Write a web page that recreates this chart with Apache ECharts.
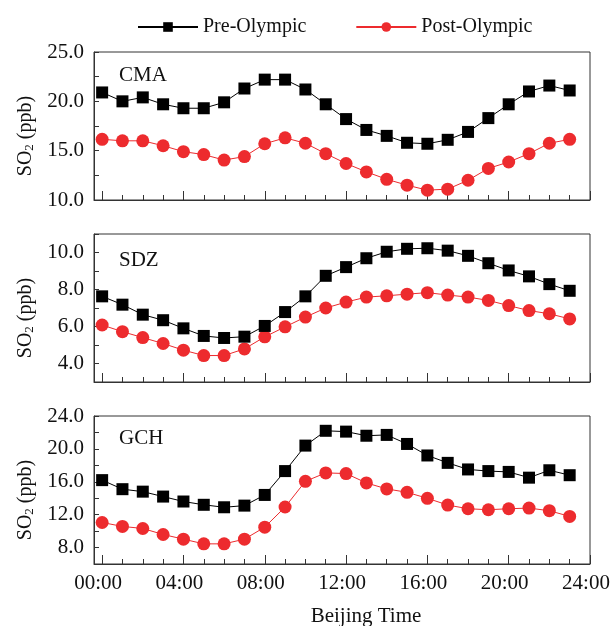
<!DOCTYPE html>
<html>
<head>
<meta charset="utf-8">
<title>SO2 diurnal variation</title>
<script src="https://cdn.jsdelivr.net/npm/echarts@6/dist/echarts.min.js"></script>
<style>
  html, body { margin: 0; padding: 0; background: #fff; }
  #chart { width: 611px; height: 626px; }
</style>
</head>
<body>
<div id="chart"></div>
<script>
// Hour of day (Beijing Time) for each hourly mean
var hours = [0, 1, 2, 3, 4, 5, 6, 7, 8, 9, 10, 11, 12, 13, 14, 15, 16, 17, 18, 19, 20, 21, 22, 23];

// Station names
var stations = ['CMA', 'SDZ', 'GCH'];

// Hourly mean SO2 (ppb), pre-Olympic period
var preCMA = [20.9, 20.0, 20.4, 19.7, 19.3, 19.3, 19.9, 21.3, 22.2, 22.2, 21.2, 19.7, 18.2, 17.1, 16.5, 15.8, 15.7, 16.1, 16.9, 18.3, 19.7, 21.0, 21.6, 21.1];
var preSDZ = [7.63, 7.18, 6.64, 6.34, 5.90, 5.49, 5.38, 5.45, 6.03, 6.78, 7.63, 8.74, 9.21, 9.69, 10.04, 10.20, 10.23, 10.10, 9.82, 9.42, 9.03, 8.71, 8.29, 7.93];
var preGCH = [16.2, 15.1, 14.8, 14.2, 13.6, 13.2, 12.9, 13.1, 14.4, 17.3, 20.4, 22.2, 22.1, 21.6, 21.7, 20.6, 19.2, 18.3, 17.5, 17.3, 17.2, 16.5, 17.4, 16.8];

// Hourly mean SO2 (ppb), post-Olympic period
var postCMA = [16.15, 16.0, 16.0, 15.5, 14.9, 14.6, 14.05, 14.4, 15.7, 16.3, 15.75, 14.7, 13.7, 12.85, 12.1, 11.5, 11.0, 11.1, 12.0, 13.2, 13.85, 14.7, 15.75, 16.15];
var postSDZ = [6.08, 5.72, 5.40, 5.08, 4.72, 4.43, 4.43, 4.79, 5.44, 5.98, 6.51, 7.00, 7.32, 7.59, 7.66, 7.75, 7.83, 7.70, 7.59, 7.41, 7.13, 6.86, 6.69, 6.41];
var postGCH = [11.05, 10.57, 10.32, 9.59, 9.02, 8.45, 8.45, 9.02, 10.48, 12.93, 16.06, 17.08, 17.0, 15.86, 15.13, 14.72, 13.99, 13.17, 12.72, 12.6, 12.72, 12.8, 12.48, 11.79];

// Axis tick positions
var hourTicks = [0, 1, 2, 3, 4, 5, 6, 7, 8, 9, 10, 11, 12, 13, 14, 15, 16, 17, 18, 19, 20, 21, 22, 23, 24];
var hourLabels = [0, 4, 8, 12, 16, 20, 24];

var seriesNames = ['Pre-Olympic', 'Post-Olympic'];

var FONT = '"Liberation Serif", "DejaVu Serif", serif';
var AXIS_COLOR = '#333';
var TEXT_COLOR = '#111';
var BLACK = '#000000';
var RED = '#ED2B2E';

var panels = [
  { name: stations[0], pre: preCMA, post: postCMA, min: 10, max: 25, step: 2.5, labelStep: 5, top: 52, labelTop: 60 },
  { name: stations[1], pre: preSDZ, post: postSDZ, min: 3, max: 11, step: 1, labelStep: 2, top: 234, labelTop: 245 },
  { name: stations[2], pre: preGCH, post: postGCH, min: 6, max: 24, step: 2, labelStep: 4, top: 416, labelTop: 423 }
];

function zip(xs, ys) {
  return xs.map(function (x, i) { return [x, ys[i]]; });
}

function pad2(n) { return (n < 10 ? '0' : '') + n; }

// true when v sits on a labelled step of the panel's axis
function onLabelStep(v, step) {
  var r = v / step;
  return Math.abs(r - Math.round(r)) < 1e-6;
}

var grids = [], xAxes = [], yAxes = [], series = [], titles = [];

panels.forEach(function (p, i) {
  var last = i === panels.length - 1;
  grids.push({
    left: 94, right: 21, top: p.top, height: 148,
    outerBoundsMode: 'none', containLabel: false,
    show: true, borderColor: AXIS_COLOR, borderWidth: 1, backgroundColor: 'transparent'
  });
  // main x axis: long ticks every 4 h, labels on the bottom panel
  xAxes.push({
    type: 'value', gridIndex: i, min: -0.4, max: 24,
    axisLine: { show: true, onZero: false, lineStyle: { color: AXIS_COLOR, width: 1 } },
    axisTick: { show: true, inside: true, length: 9, customValues: hourLabels, lineStyle: { color: AXIS_COLOR } },
    axisLabel: {
      show: last, customValues: hourLabels, margin: 9, padding: [0, 8, 0, 0],
      fontFamily: FONT, fontSize: 21, color: TEXT_COLOR,
      formatter: function (v) { return pad2(Math.round(v)) + ':00'; }
    },
    splitLine: { show: false },
    name: last ? 'Beijing Time' : '',
    nameLocation: 'middle', nameGap: 42,
    nameTextStyle: { fontFamily: FONT, fontSize: 21, color: TEXT_COLOR, padding: [0, 0, 0, 48] }
  });
  // hourly short ticks
  xAxes.push({
    type: 'value', gridIndex: i, min: -0.4, max: 24, position: 'bottom',
    axisLine: { show: false },
    axisTick: { show: true, inside: true, length: 5, customValues: hourTicks, lineStyle: { color: AXIS_COLOR } },
    axisLabel: { show: false },
    splitLine: { show: false }
  });
  yAxes.push({
    type: 'value', gridIndex: i, min: p.min, max: p.max, interval: p.step,
    axisLine: { show: true, onZero: false, lineStyle: { color: AXIS_COLOR, width: 1 } },
    axisTick: { show: true, inside: true, length: 5, lineStyle: { color: AXIS_COLOR } },
    axisLabel: {
      margin: 10, fontFamily: FONT, fontSize: 21, color: TEXT_COLOR,
      formatter: function (v) { return onLabelStep(v, p.labelStep) ? v.toFixed(1) : ''; }
    },
    splitLine: { show: false },
    name: 'SO{sub|2} (ppb)',
    nameLocation: 'middle', nameGap: 53, nameRotate: 90,
    nameTextStyle: {
      fontFamily: FONT, fontSize: 20, color: TEXT_COLOR, padding: [0, 20, 0, 0],
      rich: { sub: { fontFamily: FONT, fontSize: 13, verticalAlign: 'bottom', padding: [8, 0, 0, 0], color: TEXT_COLOR } }
    }
  });
  series.push({
    name: seriesNames[0], type: 'line', xAxisIndex: i * 2, yAxisIndex: i,
    data: zip(hours, p.pre),
    symbol: 'rect', symbolSize: 12,
    lineStyle: { color: BLACK, width: 1 },
    itemStyle: { color: BLACK },
    z: 3
  });
  series.push({
    name: seriesNames[1], type: 'line', xAxisIndex: i * 2, yAxisIndex: i,
    data: zip(hours, p.post),
    symbol: 'circle', symbolSize: 13,
    lineStyle: { color: RED, width: 1 },
    itemStyle: { color: RED },
    z: 2
  });
  titles.push({
    text: p.name, left: 114, top: p.labelTop,
    textStyle: { fontFamily: FONT, fontSize: 21, fontWeight: 'normal', color: TEXT_COLOR }
  });
});

var chart = echarts.init(document.getElementById('chart'), null, { renderer: 'canvas' });
chart.setOption({
  animation: false,
  backgroundColor: '#fff',
  title: titles,
  legend: {
    data: seriesNames,
    left: 132, top: 12,
    itemWidth: 60, itemHeight: 12, itemGap: 49,
    textStyle: { fontFamily: FONT, fontSize: 20, color: TEXT_COLOR }
  },
  grid: grids,
  xAxis: xAxes,
  yAxis: yAxes,
  series: series
});
</script>
</body>
</html>
